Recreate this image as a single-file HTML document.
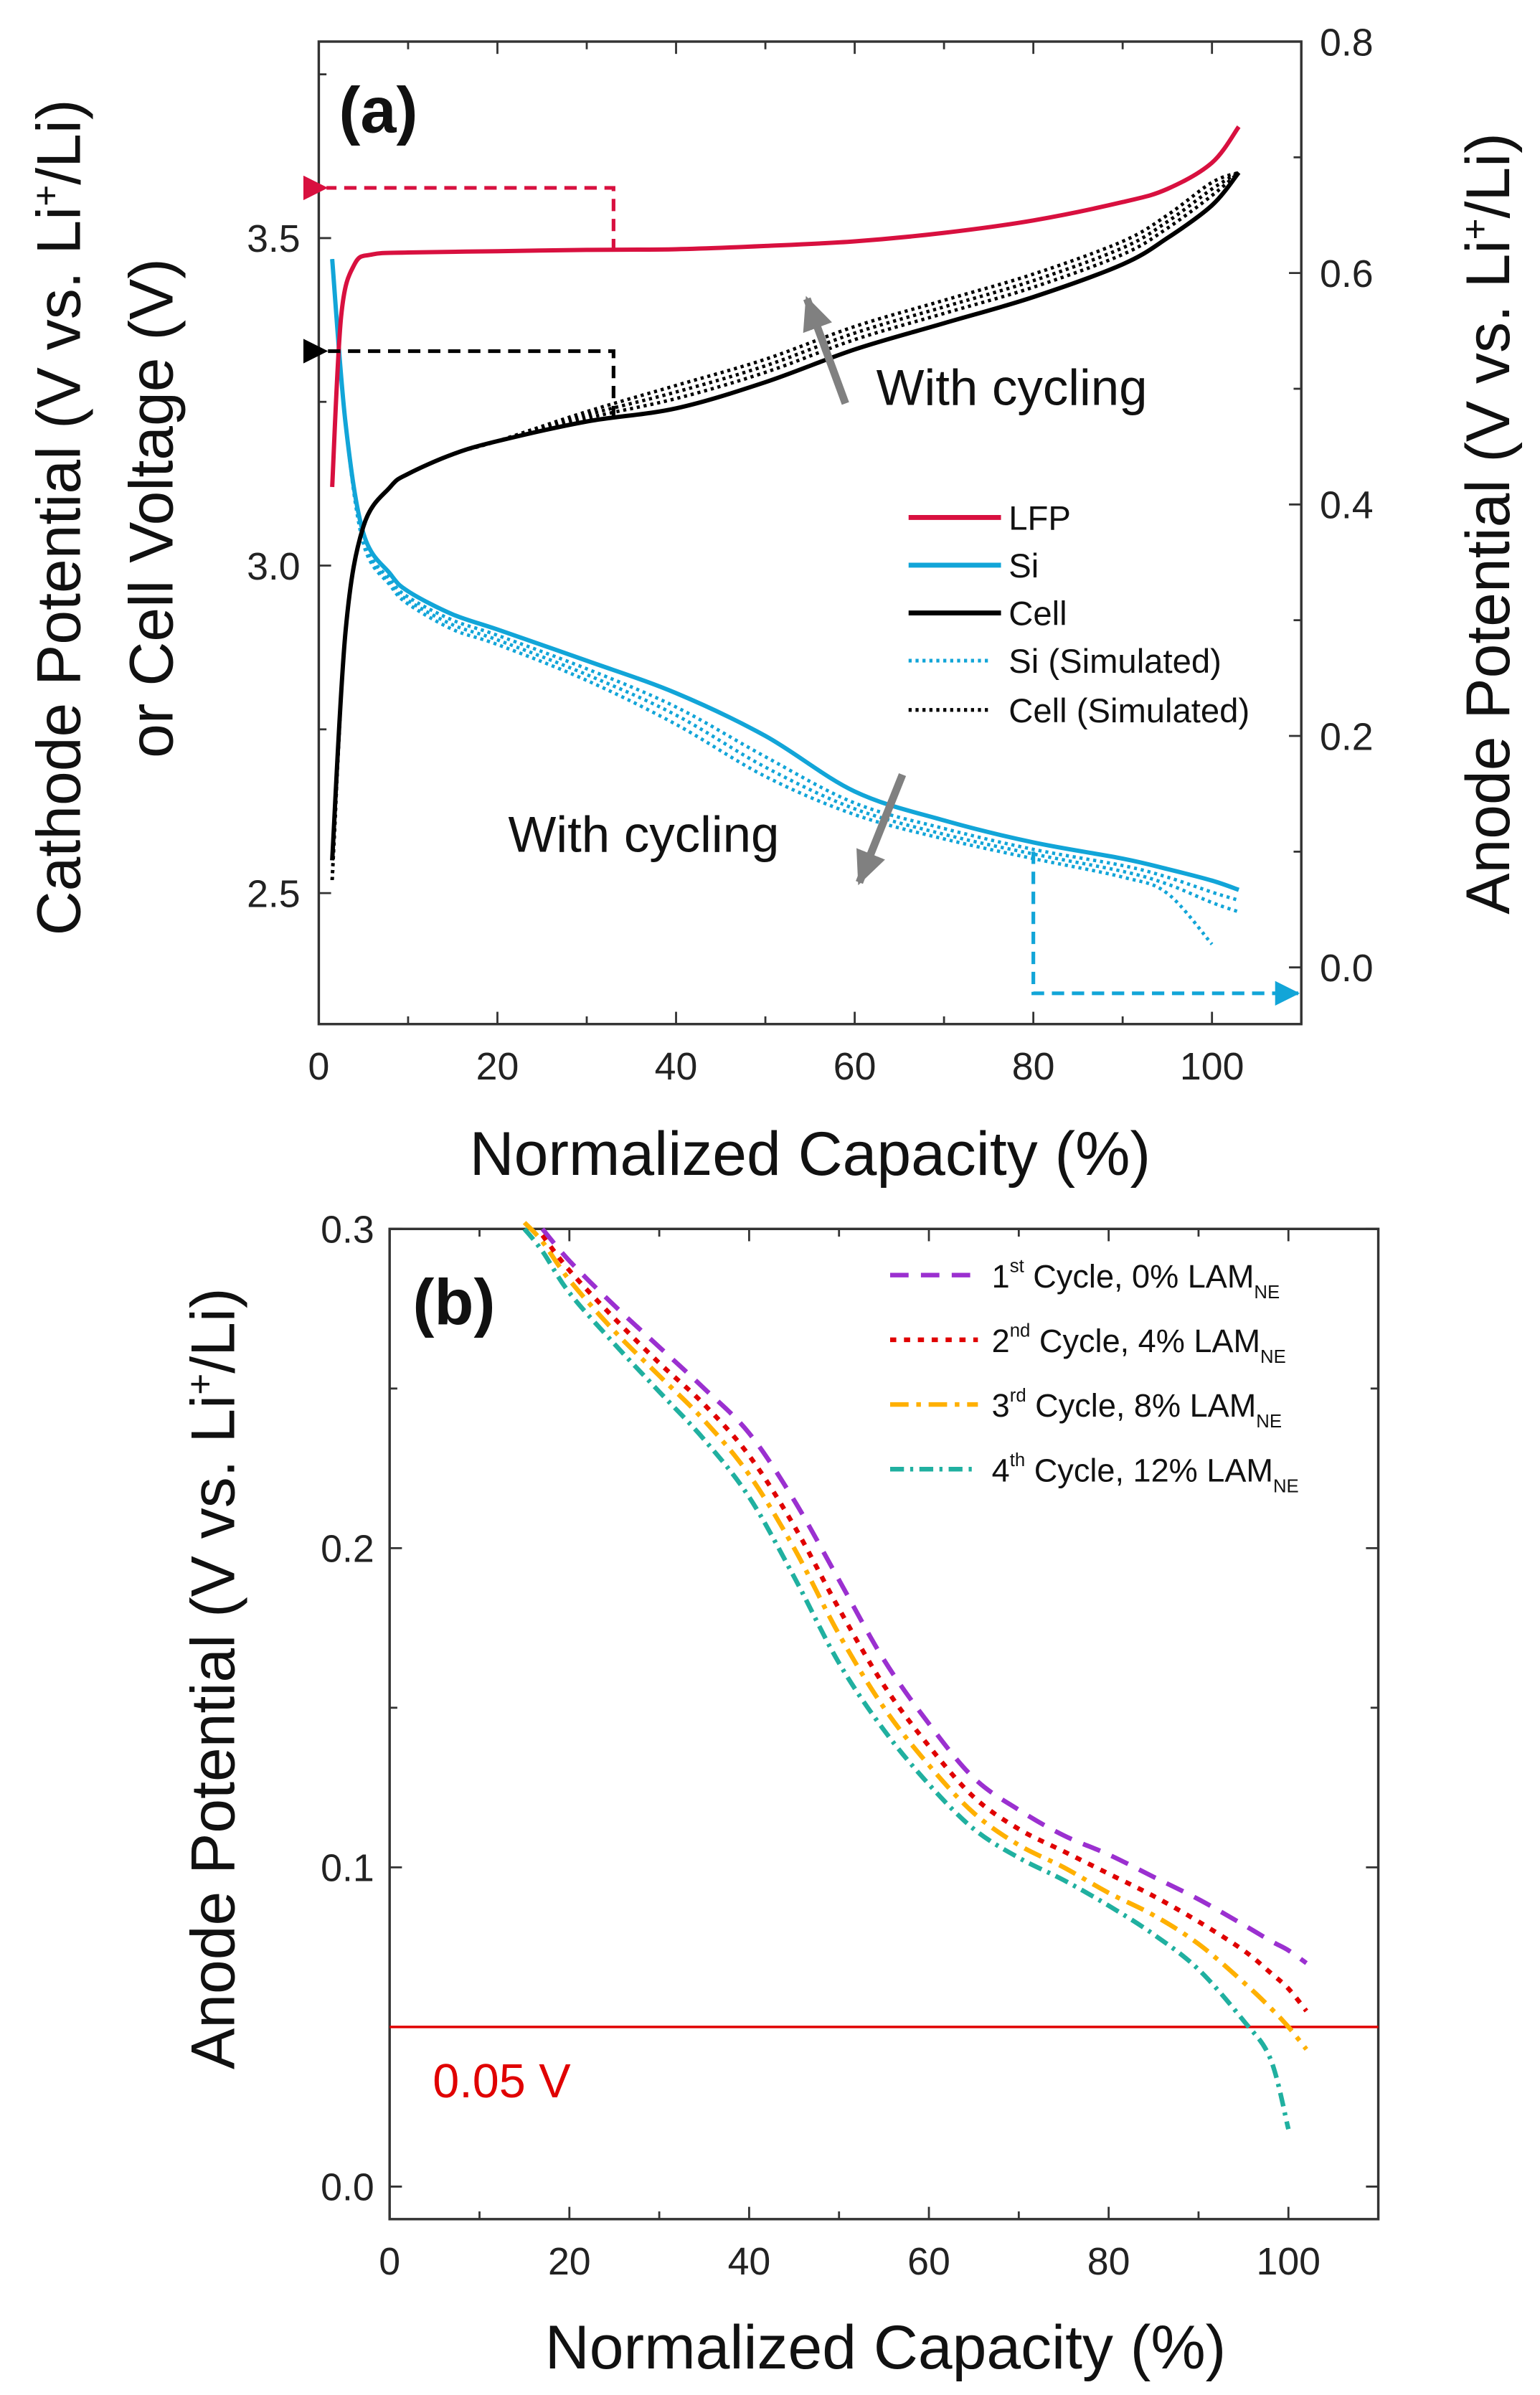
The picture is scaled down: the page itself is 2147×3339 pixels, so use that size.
<!DOCTYPE html>
<html><head><meta charset="utf-8"><style>
html,body{margin:0;padding:0;background:#fff}
svg{display:block}
text{font-family:"Liberation Sans",Arial,sans-serif}
</style></head><body>
<svg id="fig" width="2147" height="3339" viewBox="0 0 1000 1555.2" preserveAspectRatio="none" xmlns="http://www.w3.org/2000/svg">
<defs>
<marker id="arRed" markerWidth="16" markerHeight="16" refX="1" refY="8" orient="auto" markerUnits="userSpaceOnUse"><path d="M16,0 L0,8 L16,16 z" fill="#d8103f"/></marker>
<marker id="arBlk" markerWidth="16" markerHeight="16" refX="1" refY="8" orient="auto" markerUnits="userSpaceOnUse"><path d="M16,0 L0,8 L16,16 z" fill="#000"/></marker>
<marker id="arBlu" markerWidth="16" markerHeight="16" refX="15" refY="8" orient="auto" markerUnits="userSpaceOnUse"><path d="M0,0 L16,8 L0,16 z" fill="#12a5d8"/></marker>
<marker id="arGry" markerWidth="22" markerHeight="20" refX="20" refY="10" orient="auto" markerUnits="userSpaceOnUse"><path d="M0,0 L22,10 L0,20 z" fill="#808080"/></marker>
</defs>
<g id="pa"></g>
<g id="pb"></g>
</svg>
<script>
// ---------- Panel (a) data ----------
const aX = [1.5,3,5,8,10,15,20,30,40,50,60,70,80,90,95,100,103];
const lfpX = [1.5,2.5,4,6,10,20,30,40,50,60,70,80,90,95,100,103];
const lfpV = [3.12,3.38,3.46,3.475,3.478,3.48,3.482,3.483,3.488,3.495,3.508,3.527,3.555,3.575,3.615,3.67];
const cellV = [2.55,2.9,3.06,3.12,3.14,3.17,3.19,3.22,3.24,3.28,3.33,3.37,3.41,3.46,3.5,3.55,3.6];
const cellSim1 = [2.52,2.9,3.06,3.12,3.14,3.17,3.19,3.225,3.255,3.295,3.345,3.385,3.425,3.475,3.515,3.565,3.6];
const cellSim2 = [2.52,2.9,3.06,3.12,3.14,3.17,3.19,3.23,3.265,3.305,3.355,3.395,3.435,3.485,3.525,3.575,3.6];
const cellSim3 = [2.52,2.9,3.06,3.12,3.14,3.17,3.19,3.235,3.275,3.315,3.365,3.405,3.445,3.495,3.535,3.585,3.6];
const siV = [0.612,0.47,0.375,0.34,0.325,0.305,0.292,0.265,0.237,0.2,0.152,0.127,0.108,0.094,0.085,0.075,0.067];
const siSim1 = [0.612,0.47,0.37,0.335,0.32,0.3,0.287,0.258,0.225,0.182,0.142,0.12,0.102,0.088,0.078,0.065,0.058];
const siSim2 = [0.612,0.47,0.368,0.332,0.317,0.296,0.283,0.253,0.218,0.173,0.137,0.115,0.098,0.083,0.072,0.056,0.048];
const siSim3 = [0.612,0.47,0.366,0.33,0.314,0.292,0.279,0.248,0.21,0.165,0.132,0.111,0.094,0.078,0.064,0.02,null];
const aXTicks = [0,20,40,60,80,100];
const aYLTicks = ["2.5","3.0","3.5"];
const aYRTicks = ["0.0","0.2","0.4","0.6","0.8"];

// ---------- Panel (b) data ----------
const bX = [15,17,20,25,30,35,40,45,50,55,60,65,70,75,80,85,90,95,98,100,102];
const cyc1 = [null,0.3,0.29,0.276,0.263,0.25,0.236,0.215,0.19,0.165,0.145,0.128,0.118,0.11,0.104,0.097,0.09,0.082,0.077,0.074,0.07];
const cyc2 = [null,0.298,0.287,0.272,0.258,0.245,0.229,0.207,0.181,0.157,0.138,0.122,0.112,0.105,0.098,0.091,0.083,0.074,0.067,0.062,0.055];
const cyc3 = [0.302,0.296,0.284,0.268,0.254,0.24,0.223,0.2,0.173,0.15,0.132,0.117,0.107,0.1,0.092,0.085,0.076,0.064,0.056,0.05,0.043];
const cyc4 = [0.3,0.293,0.28,0.264,0.249,0.234,0.216,0.191,0.164,0.143,0.126,0.112,0.103,0.096,0.088,0.079,0.068,0.052,0.04,0.018,null];
const bXTicks = [0,20,40,60,80,100];
const bYTicks = ["0.0","0.1","0.2","0.3"];

const NS = "http://www.w3.org/2000/svg";
function mk(parent, tag, attrs, txt){
  const e = document.createElementNS(NS, tag);
  for (const k in attrs) e.setAttribute(k, attrs[k]);
  if (txt !== undefined) e.textContent = txt;
  parent.appendChild(e); return e;
}
function smooth(pts){
  if (pts.length < 2) return "";
  let d = "M" + pts[0][0].toFixed(2) + "," + pts[0][1].toFixed(2);
  for (let i = 0; i < pts.length - 1; i++){
    const p0 = pts[i-1] || pts[i], p1 = pts[i], p2 = pts[i+1], p3 = pts[i+2] || p2;
    const c1x = p1[0] + (p2[0]-p0[0])/6, c1y = p1[1] + (p2[1]-p0[1])/6;
    const c2x = p2[0] - (p3[0]-p1[0])/6, c2y = p2[1] - (p3[1]-p1[1])/6;
    d += " C" + c1x.toFixed(2)+","+c1y.toFixed(2)+" "+c2x.toFixed(2)+","+c2y.toFixed(2)+" "+p2[0].toFixed(2)+","+p2[1].toFixed(2);
  }
  return d;
}
function pts(xs, ys, fx, fy){
  const r = [];
  for (let i = 0; i < xs.length; i++) if (ys[i] !== null && ys[i] !== undefined) r.push([fx(xs[i]), fy(ys[i])]);
  return r;
}

// ---------- Panel (a) ----------
const pa = document.getElementById('pa');
const A = {l:207, r:845, t:27, b:665};
const ax = v => A.l + (v - 0) / 110 * (A.r - A.l);
const ayL = v => A.b - (v - 2.3) / 1.5 * (A.b - A.t);
const ayR = v => A.b - (v + 0.049) / 0.849 * (A.b - A.t);

const aFrame = mk(pa, 'rect', {x:A.l, y:A.t, width:A.r-A.l, height:A.b-A.t, fill:'none', stroke:'#333', 'stroke-width':1.6});



for (let v = 0; v <= 110; v += 10){
  const len = v % 20 === 0 ? 8 : 5;
  mk(pa,'line',{x1:ax(v),x2:ax(v),y1:A.b,y2:A.b-len,stroke:'#333','stroke-width':1.3});
  mk(pa,'line',{x1:ax(v),x2:ax(v),y1:A.t,y2:A.t+len,stroke:'#333','stroke-width':1.3});
}
aXTicks.forEach(v => {
  const t = mk(pa,'text',{x:ax(v), y:A.b+36, 'font-size':25, 'text-anchor':'middle', fill:'#222'}, String(v));
  
  
});
for (let k = 0; k <= 6; k++){
  const v = 2.25 + k*0.25;
  if (v < 2.3) continue;
  const len = k % 2 === 1 ? 8 : 5;
  mk(pa,'line',{x1:A.l,x2:A.l+len,y1:ayL(v),y2:ayL(v),stroke:'#333','stroke-width':1.3});
}
aYLTicks.forEach(s => {
  const t = mk(pa,'text',{x:A.l-12, y:ayL(parseFloat(s))+9, 'font-size':25, 'text-anchor':'end', fill:'#222'}, s);
  
  
});
for (let k = 0; k <= 8; k++){
  const v = k*0.1;
  const len = k % 2 === 0 ? 8 : 5;
  mk(pa,'line',{x1:A.r,x2:A.r-len,y1:ayR(v),y2:ayR(v),stroke:'#333','stroke-width':1.3});
}
aYRTicks.forEach(s => {
  const t = mk(pa,'text',{x:A.r+12, y:ayR(parseFloat(s))+9, 'font-size':25, 'text-anchor':'start', fill:'#222'}, s);
  
  
});

// axis titles a
let t;
t = mk(pa,'text',{x:526, y:763, 'font-size':40, 'text-anchor':'middle', fill:'#111'}, 'Normalized Capacity (%)');


t = mk(pa,'text',{transform:'translate(52,336) rotate(-90)', 'font-size':40, 'text-anchor':'middle', fill:'#111'});


t.innerHTML = 'Cathode Potential (V vs. Li<tspan dy="-14" font-size="24">+</tspan><tspan dy="14">/Li)</tspan>';
t = mk(pa,'text',{transform:'translate(112,330) rotate(-90)', 'font-size':40, 'text-anchor':'middle', fill:'#111'}, 'or Cell Voltage (V)');


t = mk(pa,'text',{transform:'translate(980,340) rotate(-90)', 'font-size':40, 'text-anchor':'middle', fill:'#111'});


t.innerHTML = 'Anode Potential (V vs. Li<tspan dy="-14" font-size="24">+</tspan><tspan dy="14">/Li)</tspan>';
t = mk(pa,'text',{x:220, y:86, 'font-size':42, 'font-weight':'bold', fill:'#111'}, '(a)');



// series a
let p;
[siSim3, siSim2, siSim1].forEach(arr => {
  p = mk(pa,'path',{d:smooth(pts(aX, arr, ax, ayR)), fill:'none', stroke:'#12a5d8', 'stroke-width':2.2, 'stroke-dasharray':'2 2.5'});
  
  
});
p = mk(pa,'path',{d:smooth(pts(aX, siV, ax, ayR)), fill:'none', stroke:'#12a5d8', 'stroke-width':2.8});


[cellSim3, cellSim2, cellSim1].forEach(arr => {
  p = mk(pa,'path',{d:smooth(pts(aX, arr, ax, ayL)), fill:'none', stroke:'#000', 'stroke-width':2.2, 'stroke-dasharray':'2 2.5'});
  
  
});
p = mk(pa,'path',{d:smooth(pts(aX, cellV, ax, ayL)), fill:'none', stroke:'#000', 'stroke-width':2.8});


p = mk(pa,'path',{d:smooth(pts(lfpX, lfpV, ax, ayL)), fill:'none', stroke:'#d8103f', 'stroke-width':2.8});



// dashed pointer arrows
p = mk(pa,'path',{d:`M${ax(33)},${ayL(3.48)} L${ax(33)},122 L212,122`, fill:'none', stroke:'#d8103f','stroke-width':2.4,'stroke-dasharray':'8 5','marker-end':'url(#arRed)'});


p = mk(pa,'path',{d:`M${ax(33)},${ayL(3.225)} L${ax(33)},228 L212,228`, fill:'none', stroke:'#000','stroke-width':2.4,'stroke-dasharray':'8 5','marker-end':'url(#arBlk)'});


p = mk(pa,'path',{d:`M${ax(80)},${ayR(0.1)} L${ax(80)},645 L843,645`, fill:'none', stroke:'#12a5d8','stroke-width':2.4,'stroke-dasharray':'8 5','marker-end':'url(#arBlu)'});


p = mk(pa,'line',{x1:549,y1:262,x2:524,y2:194,stroke:'#808080','stroke-width':5,'marker-end':'url(#arGry)'});


p = mk(pa,'line',{x1:586,y1:503,x2:558,y2:573,stroke:'#808080','stroke-width':5,'marker-end':'url(#arGry)'});


t = mk(pa,'text',{x:569,y:263,'font-size':33,fill:'#111'}, 'With cycling');


t = mk(pa,'text',{x:330,y:553,'font-size':33,fill:'#111'}, 'With cycling');



// legend a
const legA = mk(pa,'g',{});


const legAItems = [['LFP','#d8103f',null],['Si','#12a5d8',null],['Cell','#000',null],['Si (Simulated)','#12a5d8','2 2.5'],['Cell (Simulated)','#000','2 2.5']];
const legAY = [336,367,398,429,461];
legAItems.forEach((it, i) => {
  const g = mk(legA,'g',{});
  
  
  const a = {x1:590,x2:650,y1:legAY[i],y2:legAY[i],stroke:it[1],'stroke-width':it[2]?2.4:3.2};
  if (it[2]) { a['stroke-dasharray']=it[2]; a.x2=644; }
  mk(g,'line',a);
  mk(g,'text',{x:655,y:legAY[i]+8,'font-size':22,fill:'#111'}, it[0]);
});

// ---------- Panel (b) ----------
const pb = document.getElementById('pb');
const B = {l:253, r:895, t:798, b:1441};
const bx = v => B.l + v / 110 * (B.r - B.l);
const by = v => B.b - (v + 0.0102) / 0.3102 * (B.b - B.t);

const bFrame = mk(pb,'rect',{x:B.l,y:B.t,width:B.r-B.l,height:B.b-B.t,fill:'none',stroke:'#333','stroke-width':1.6});


for (let v = 0; v <= 110; v += 10){
  const len = v % 20 === 0 ? 8 : 5;
  mk(pb,'line',{x1:bx(v),x2:bx(v),y1:B.b,y2:B.b-len,stroke:'#333','stroke-width':1.3});
  mk(pb,'line',{x1:bx(v),x2:bx(v),y1:B.t,y2:B.t+len,stroke:'#333','stroke-width':1.3});
}
for (let k = 0; k <= 6; k++){
  const v = k*0.05, len = k%2===0 ? 8 : 5;
  mk(pb,'line',{x1:B.l,x2:B.l+len,y1:by(v),y2:by(v),stroke:'#333','stroke-width':1.3});
  mk(pb,'line',{x1:B.r,x2:B.r-len,y1:by(v),y2:by(v),stroke:'#333','stroke-width':1.3});
}
bXTicks.forEach(v => {
  const tt = mk(pb,'text',{x:bx(v),y:B.b+36,'font-size':25,'text-anchor':'middle',fill:'#222'}, String(v));
  
  
});
bYTicks.forEach(s => {
  const tt = mk(pb,'text',{x:B.l-10,y:by(parseFloat(s))+9,'font-size':25,'text-anchor':'end',fill:'#222'}, s);
  
  
});
t = mk(pb,'text',{x:575,y:1538,'font-size':40,'text-anchor':'middle',fill:'#111'}, 'Normalized Capacity (%)');


t = mk(pb,'text',{transform:'translate(152,1090) rotate(-90)','font-size':40,'text-anchor':'middle',fill:'#111'});


t.innerHTML = 'Anode Potential (V vs. Li<tspan dy="-14" font-size="24">+</tspan><tspan dy="14">/Li)</tspan>';
t = mk(pb,'text',{x:268,y:860,'font-size':42,'font-weight':'bold',fill:'#111'}, '(b)');



p = mk(pb,'line',{x1:B.l,x2:B.r,y1:by(0.05),y2:by(0.05),stroke:'#e00000','stroke-width':1.6});


t = mk(pb,'text',{x:281,y:1362,'font-size':31,fill:'#e00000'}, '0.05 V');



const bSeries = [[cyc4,'#20b0a0','9 4 2 4'],[cyc3,'#ffb000','12 5 3 5'],[cyc2,'#e00000','4 5'],[cyc1,'#9b30d0','12 8']];
bSeries.forEach((s, i) => {
  p = mk(pb,'path',{d:smooth(pts(bX, s[0], bx, by)),fill:'none',stroke:s[1],'stroke-width':3,'stroke-dasharray':s[2]});
  
  
});

const legB = mk(pb,'g',{});


const legBItems = [['1','st','Cycle, 0% LAM','#9b30d0','12 8'],['2','nd','Cycle, 4% LAM','#e00000','4 5'],['3','rd','Cycle, 8% LAM','#ffb000','12 5 3 5'],['4','th','Cycle, 12% LAM','#20b0a0','9 4 2 4']];
const legBY = [828,870,912,954];
legBItems.forEach((it, i) => {
  const g = mk(legB,'g',{});
  
  
  mk(g,'line',{x1:578,x2:635,y1:legBY[i],y2:legBY[i],stroke:it[3],'stroke-width':3,'stroke-dasharray':it[4]});
  const tx = mk(g,'text',{x:644,y:legBY[i]+8,'font-size':21,fill:'#111'});
  tx.innerHTML = it[0] + '<tspan dy="-10" font-size="12">' + it[1] + '</tspan><tspan dy="10"> ' + it[2] + '</tspan><tspan dy="7" font-size="12">NE</tspan>';
});
</script>
</body></html>
